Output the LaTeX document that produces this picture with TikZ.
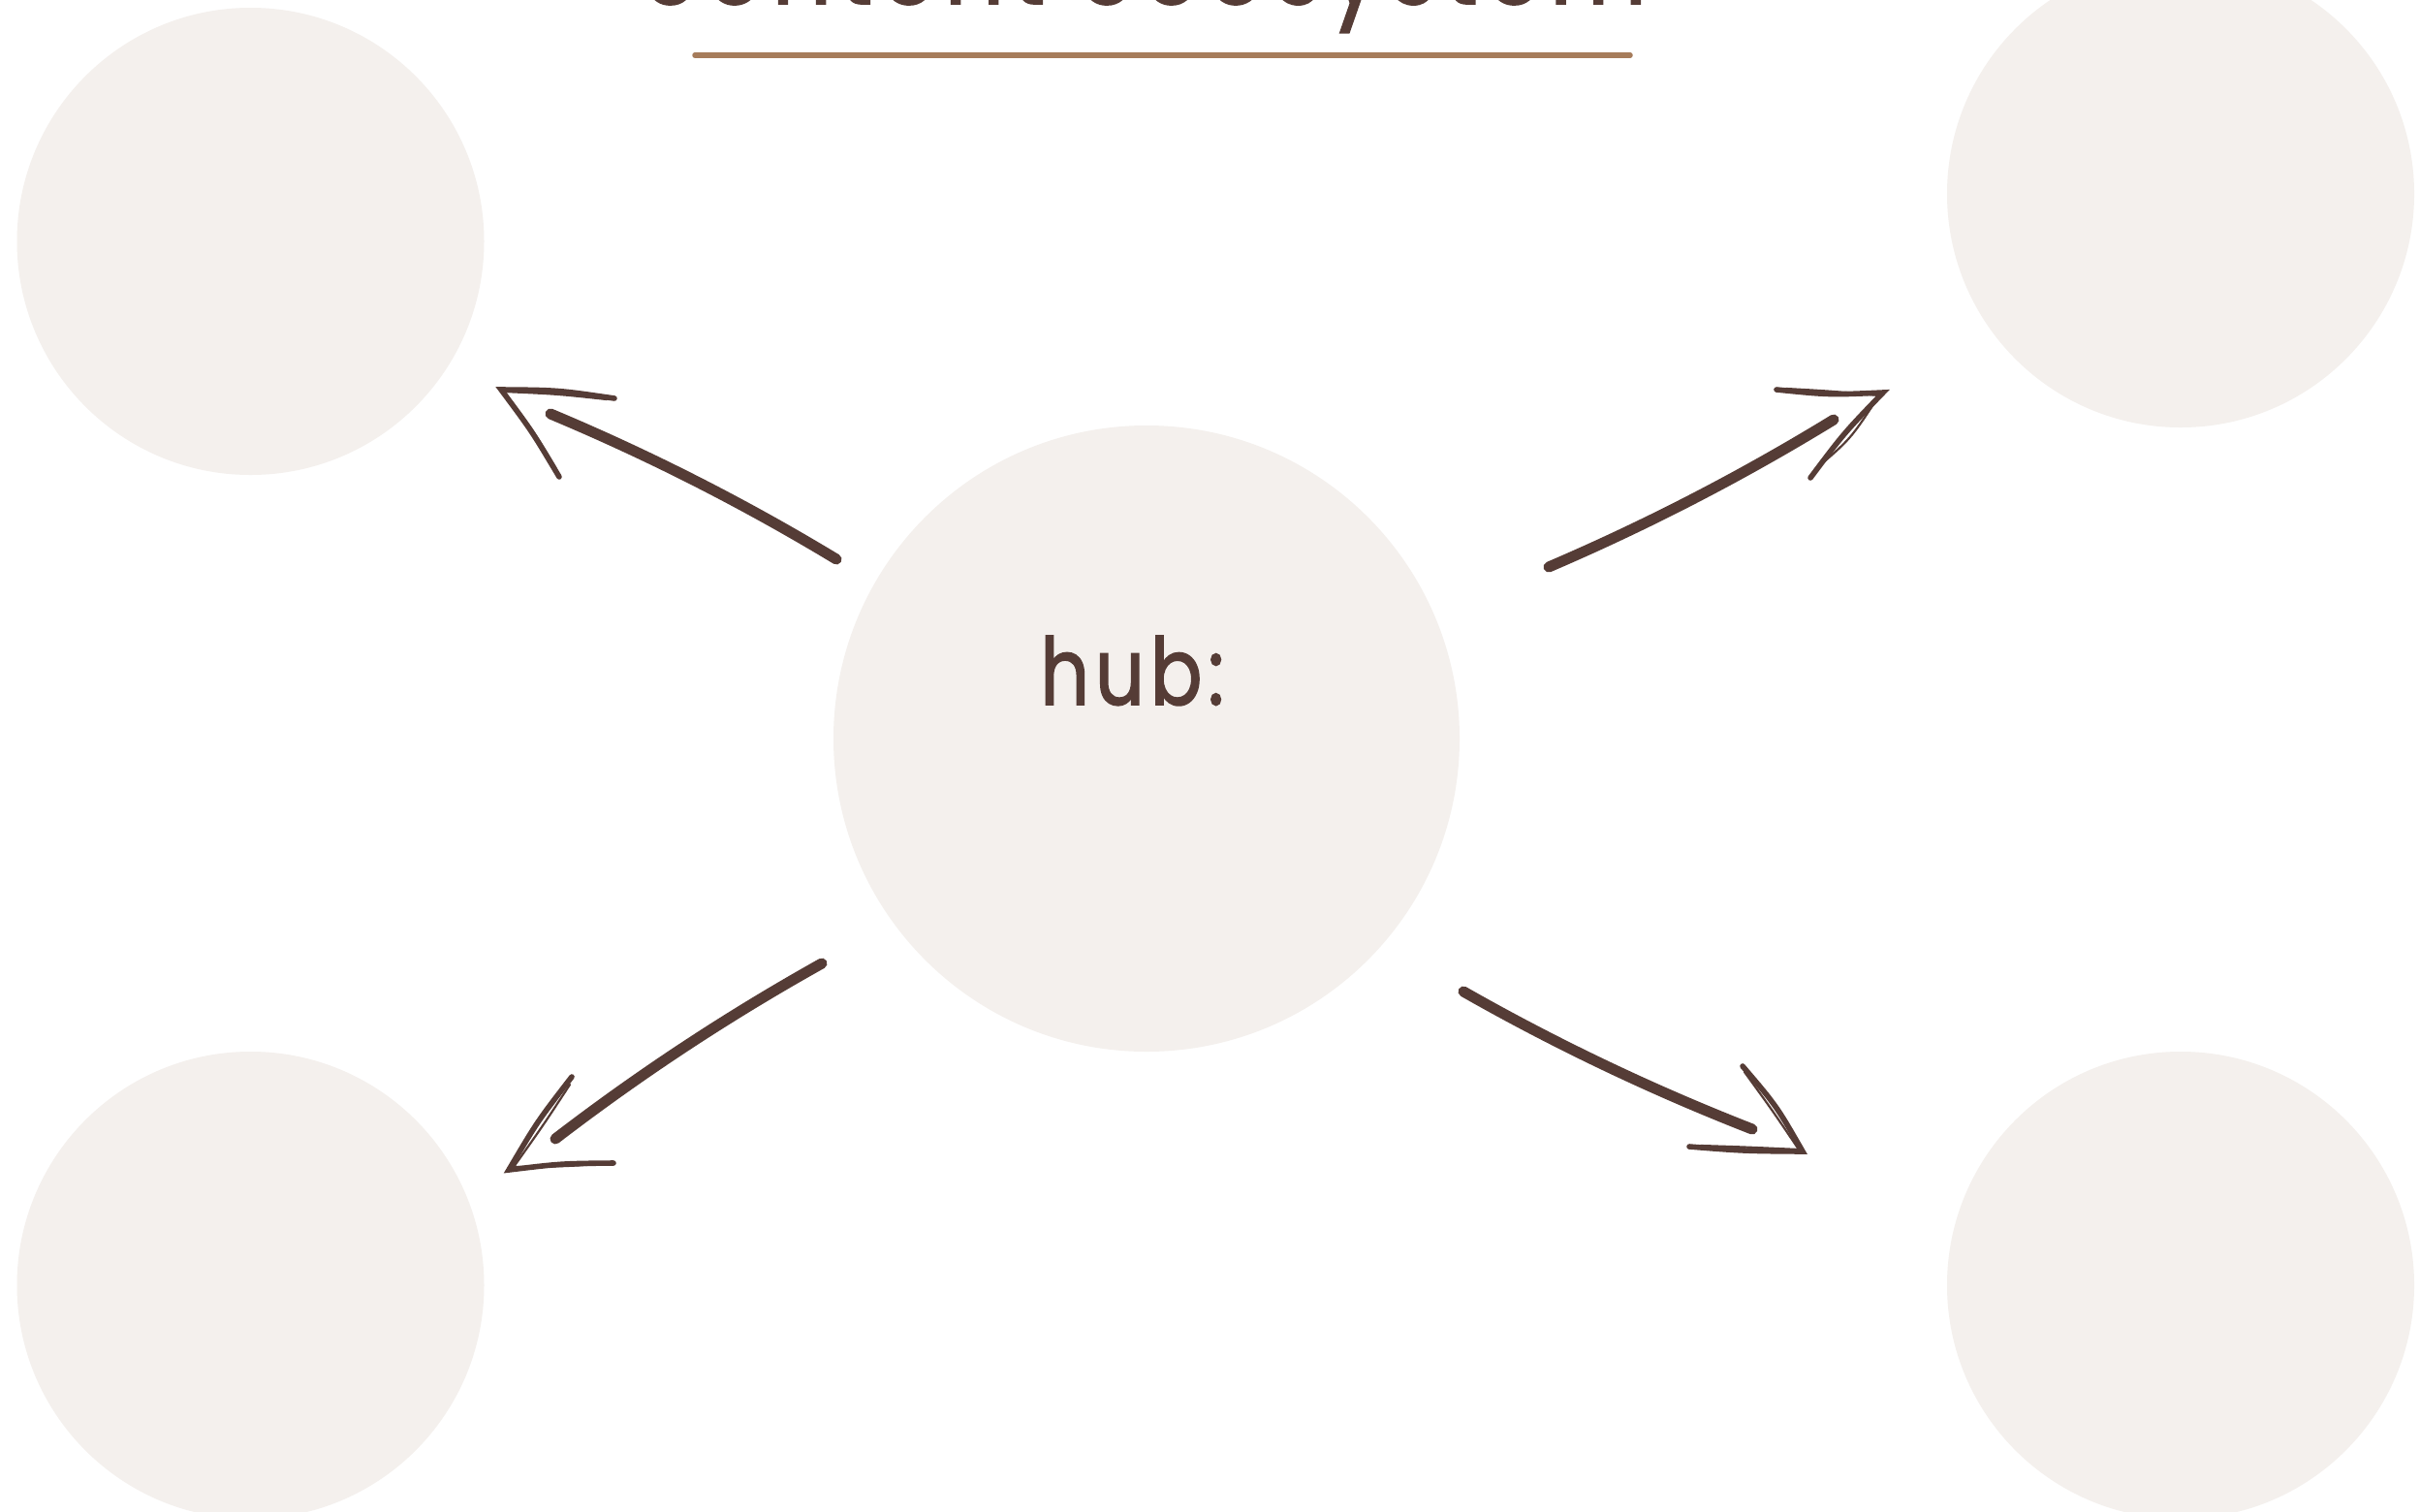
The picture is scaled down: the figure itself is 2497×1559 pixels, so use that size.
\documentclass[tikz,border=0pt]{standalone}
\usepackage{fontspec}
\setmainfont{Poppins}
\usetikzlibrary{calc}
\definecolor{ink}{HTML}{553C36}
\definecolor{blob}{HTML}{F4F0ED}
\definecolor{tanline}{HTML}{A67C5B}
\tikzset{
  blobnode/.style={circle, fill=blob, draw=none, minimum size=482pt, inner sep=0pt},
  hubnode/.style={circle, fill=blob, draw=none, minimum size=646pt, inner sep=0pt},
  shaft/.style={draw=ink, line width=11pt, line cap=round},
  headstroke/.style={draw=ink, line width=5.6pt, line cap=round, line join=miter},
  headsketch/.style={draw=ink, line width=2.2pt, line cap=round, line join=miter},
  textlabel/.style={inner sep=0pt, text=ink},
}
\begin{document}
\begin{tikzpicture}[x=1pt,y=-1pt]
\useasboundingbox (0,0) rectangle (2497,1559);
\fill[white] (0,0) rectangle (2497,1559);

% circles
\node[blobnode] (c1) at (258.5,249) {};
\node[blobnode] (c2) at (2250,200) {};
\node[blobnode] (c3) at (258.5,1326) {};
\node[blobnode] (c4) at (2250,1326) {};
\node[hubnode] (hub) at (1183,762) {};

% title and underline
\node[textlabel, anchor=base west, font=\fontsize{115}{125}\selectfont] (title) at (661,4) {\scalebox{0.85}[1]{\addfontfeature{LetterSpace=6.6,FakeBold=1.5}content ecosystem}};
\coordinate (ul1) at (717,57);
\coordinate (ul2) at (1682,57);
\draw[tanline, line width=5.5pt, line cap=round] (ul1) -- (ul2);

% hub label
\node[textlabel, anchor=base west, font=\fontsize{96}{110}\selectfont] (hublabel) at (1073,727) {\scalebox{0.83}[1]{\addfontfeature{LetterSpace=7.2,FakeBold=1.8}hub:}};

% ---- top-left arrow
\coordinate (tls) at (863,577);
\coordinate (tle) at (568,427);
\coordinate (tlt) at (517,402);
\coordinate (tla) at (634,411);
\coordinate (tlb) at (577,492);
\draw[shaft] (tls) .. controls ($(tls)!1/3!(tle)+(3.6,-7.3)$) and ($(tls)!2/3!(tle)+(3.6,-7.3)$) .. (tle);
\draw[headstroke] (tla) .. controls ($(tla)!0.5!(tlt)+(0,-4)$) .. (tlt) .. controls ($(tlt)!0.5!(tlb)+(2,-2)$) .. (tlb);
\draw[headsketch] ($(tla)+(-8,1)$) .. controls ($(tla)!0.5!(tlt)+(0,0)$) .. ($(tlt)+(3,2)$) .. controls ($(tlt)!0.5!(tlb)+(5,0)$) .. ($(tlb)+(-3,-8)$);

% ---- top-right arrow
\coordinate (trs) at (1598,585);
\coordinate (tre) at (1892,433);
\coordinate (trt) at (1943,405);
\coordinate (tra) at (1833,402);
\coordinate (trb) at (1868,493);
\draw[shaft] (trs) .. controls ($(trs)!1/3!(tre)+(3.7,7.1)$) and ($(trs)!2/3!(tre)+(3.7,7.1)$) .. (tre);
\draw[headstroke] (tra) .. controls ($(tra)!0.5!(trt)+(0,4)$) .. (trt) .. controls ($(trt)!0.5!(trb)+(-3,-2)$) .. (trb);
\draw[headsketch] ($(tra)+(10,-1)$) .. controls ($(tra)!0.5!(trt)+(0,0)$) .. ($(trt)+(-4,3)$) .. controls ($(trt)!0.5!(trb)+(4,4)$) .. ($(trb)+(4,-8)$);

% ---- bottom-right arrow
\coordinate (brs) at (1510,1023);
\coordinate (bre) at (1808,1165);
\coordinate (brt) at (1860,1188);
\coordinate (bra) at (1798,1100);
\coordinate (brb) at (1743,1183);
\draw[shaft] (brs) .. controls ($(brs)!1/3!(bre)+(-3.5,7.2)$) and ($(brs)!2/3!(bre)+(-3.5,7.2)$) .. (bre);
\draw[headstroke] (bra) .. controls ($(bra)!0.5!(brt)+(4,-3)$) .. (brt) .. controls ($(brt)!0.5!(brb)+(-2,2)$) .. (brb);
\draw[headsketch] ($(bra)+(2,6)$) .. controls ($(bra)!0.5!(brt)+(0,2)$) .. ($(brt)+(-4,-2)$) .. controls ($(brt)!0.5!(brb)+(0,-2)$) .. ($(brb)+(12,-1)$);

% ---- bottom-left arrow
\coordinate (bls) at (848,994);
\coordinate (ble) at (573,1175);
\coordinate (blt) at (525,1207);
\coordinate (bla) at (590,1111);
\coordinate (blb) at (633,1200);
\draw[shaft] (bls) .. controls ($(bls)!1/3!(ble)+(-4.4,-6.7)$) and ($(bls)!2/3!(ble)+(-4.4,-6.7)$) .. (ble);
\draw[headstroke] (bla) .. controls ($(bla)!0.5!(blt)+(-3,-2)$) .. (blt) .. controls ($(blt)!0.5!(blb)+(0,-3)$) .. (blb);
\draw[headsketch] ($(bla)+(-2,8)$) .. controls ($(bla)!0.5!(blt)+(3,2)$) .. ($(blt)+(5,-3)$) .. controls ($(blt)!0.5!(blb)+(0,0)$) .. ($(blb)+(-12,1)$);
\end{tikzpicture}
\end{document}
